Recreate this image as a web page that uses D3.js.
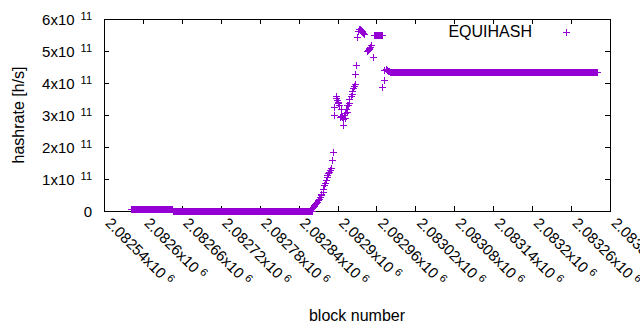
<!DOCTYPE html>
<html>
<head>
<meta charset="utf-8">
<script src="https://cdn.jsdelivr.net/npm/d3@7"></script>
<style>
  body { margin: 0; background: #fff; }
  svg text { font-family: "Liberation Sans", Arial, sans-serif; fill: #000; }
</style>
</head>
<body>
<svg id="chart" width="640" height="330"></svg>
<script>
// flat stretches: every block in [start, end] sits at the same rate
var runStart = [2082582, 2082646, 2082956, 2082981];
var runEnd   = [2082645, 2082860, 2082968, 2083300];
var runRate  = [0.05e11, 0.01e11, 5.50e11, 4.33e11];

// single points of the ramp and the spike
var pointBlocks = [
  2082861, 2082862, 2082863, 2082864, 2082865, 2082867, 2082868, 2082870, 2082871, 2082873,
  2082874, 2082875, 2082877, 2082878, 2082879, 2082880, 2082882, 2082883, 2082884, 2082886,
  2082887, 2082889, 2082890, 2082892, 2082893,
  2082895, 2082895, 2082897, 2082898, 2082899, 2082900, 2082901, 2082902, 2082904, 2082905,
  2082906, 2082907, 2082909, 2082909, 2082910, 2082911, 2082912, 2082913, 2082914, 2082914,
  2082916, 2082917, 2082918, 2082920, 2082922, 2082923, 2082924, 2082926, 2082927, 2082927,
  2082928, 2082930,
  2082932, 2082933, 2082934, 2082935, 2082936, 2082937, 2082938, 2082939, 2082940, 2082941,
  2082946, 2082947, 2082948, 2082949, 2082950, 2082951, 2082952, 2082955,
  2082969, 2082971, 2082972, 2082974, 2082975, 2082976, 2082978, 2082979
];
var pointRates = [
  0.10, 0.13, 0.17, 0.19, 0.21, 0.24, 0.28, 0.34, 0.38, 0.44,
  0.50, 0.53, 0.60, 0.70, 0.81, 0.87, 0.97, 1.05, 1.12, 1.18,
  1.23, 1.28, 1.33, 1.59, 1.85,
  3.26, 3.00, 3.52, 3.59, 3.47, 3.42, 3.37, 3.30, 2.93, 3.18,
  2.98, 2.95, 2.69, 2.87, 3.00, 2.92, 3.05, 3.20, 3.31, 3.10,
  3.30, 3.37, 3.49, 3.58, 3.66, 3.75, 3.83, 3.90, 3.97, 4.27,
  4.56, 5.43,
  5.62, 5.68, 5.70, 5.68, 5.65, 5.62, 5.58, 5.55, 5.55, 5.52,
  5.00, 5.02, 5.05, 5.10, 5.14, 5.18, 5.20, 4.80,
  3.87, 4.09, 4.40, 4.43, 4.45, 4.42, 4.38, 4.36
].map(function(v){ return v * 1e11; });

var xTickValues = [2082540, 2082600, 2082660, 2082720, 2082780, 2082840, 2082900,
                   2082960, 2083020, 2083080, 2083140, 2083200, 2083260, 2083320];
var xTickLabels = ['2.08254', '2.0826', '2.08266', '2.08272', '2.08278', '2.08284', '2.0829',
                   '2.08296', '2.08302', '2.08308', '2.08314', '2.0832', '2.08326', '2.08332'];
var yTickValues = [0, 1e11, 2e11, 3e11, 4e11, 5e11, 6e11];
var yTickLabels = ['0', '1', '2', '3', '4', '5', '6'];

var color = '#9400d3';
var margin = {left: 104, right: 30, top: 19, bottom: 119};
var width = 640, height = 330;

var svg = d3.select('#chart');

var x = d3.scaleLinear()
  .domain([2082540, 2083320])
  .range([margin.left, width - margin.right]);
var y = d3.scaleLinear()
  .domain([0, 6e11])
  .range([height - margin.bottom, margin.top]);

var pts = [];
runStart.forEach(function(s, i){
  for (var b = s; b <= runEnd[i]; b++) pts.push({block: b, rate: runRate[i]});
});
pointBlocks.forEach(function(b, i){ pts.push({block: b, rate: pointRates[i]}); });

function cross(px, py, r) {
  px = Math.round(px) + 0.5;
  py = Math.round(py) + 0.5;
  return 'M' + (px - r) + ',' + py + 'H' + (px + r) + 'M' + px + ',' + (py - r) + 'V' + (py + r);
}

// axes, ticks mirrored on all four sides
var bottom = svg.append('g')
  .attr('transform', 'translate(0,' + (height - margin.bottom) + ')')
  .call(d3.axisBottom(x).tickValues(xTickValues).tickSize(-5).tickFormat(function(d, i){ return xTickLabels[i]; }));
bottom.selectAll('.tick text').each(function(d, i){
  var t = d3.select(this);
  t.text(null)
    .attr('y', null).attr('dy', null)
    .attr('font-size', 15)
    .attr('text-anchor', 'start')
    .attr('transform', 'translate(0,13) rotate(45)');
  t.append('tspan').text(xTickLabels[i] + 'x10');
  t.append('tspan').attr('dx', 4).attr('dy', -5).attr('font-size', 11).text('6');
});

var left = svg.append('g')
  .attr('transform', 'translate(' + margin.left + ',0)')
  .call(d3.axisLeft(y).tickValues(yTickValues).tickSize(-5).tickFormat(function(d, i){ return yTickLabels[i]; }));
left.selectAll('.tick text').each(function(d, i){
  var t = d3.select(this);
  t.text(null).attr('x', -12).attr('dy', null).attr('y', 5).attr('font-size', 15).attr('text-anchor', 'end');
  if (i === 0) { t.text('0'); return; }
  t.append('tspan').text(yTickLabels[i] + 'x10');
  t.append('tspan').attr('dx', 6).attr('dy', -5).attr('font-size', 11).text('11');
});

svg.append('g')
  .attr('transform', 'translate(0,' + margin.top + ')')
  .call(d3.axisTop(x).tickValues(xTickValues).tickSize(-5).tickFormat(''));
svg.append('g')
  .attr('transform', 'translate(' + (width - margin.right) + ',0)')
  .call(d3.axisRight(y).tickValues(yTickValues).tickSize(-5).tickFormat(''));

svg.selectAll('.domain').remove();
svg.selectAll('.tick line').attr('stroke', '#000').attr('shape-rendering', 'crispEdges');

svg.append('rect')
  .attr('x', margin.left + 0.5)
  .attr('y', margin.top + 0.5)
  .attr('width', width - margin.left - margin.right)
  .attr('height', height - margin.top - margin.bottom)
  .attr('fill', 'none')
  .attr('stroke', '#000')
  .attr('shape-rendering', 'crispEdges');

// data
svg.append('path')
  .attr('d', pts.map(function(p){ return cross(x(p.block), y(p.rate), 3.5); }).join(''))
  .attr('fill', 'none')
  .attr('stroke', color)
  .attr('stroke-width', 1)
  .attr('shape-rendering', 'crispEdges');

// legend
svg.append('text')
  .attr('x', 532).attr('y', 37)
  .attr('font-size', 16)
  .attr('text-anchor', 'end')
  .text('EQUIHASH');
svg.append('path')
  .attr('d', cross(566, 32, 3.5))
  .attr('stroke', color)
  .attr('shape-rendering', 'crispEdges');

// axis titles
svg.append('text')
  .attr('x', 357).attr('y', 321)
  .attr('font-size', 16)
  .attr('text-anchor', 'middle')
  .text('block number');
svg.append('text')
  .attr('transform', 'translate(24,115) rotate(-90)')
  .attr('font-size', 16)
  .attr('text-anchor', 'middle')
  .text('hashrate [h/s]');
</script>
</body>
</html>
